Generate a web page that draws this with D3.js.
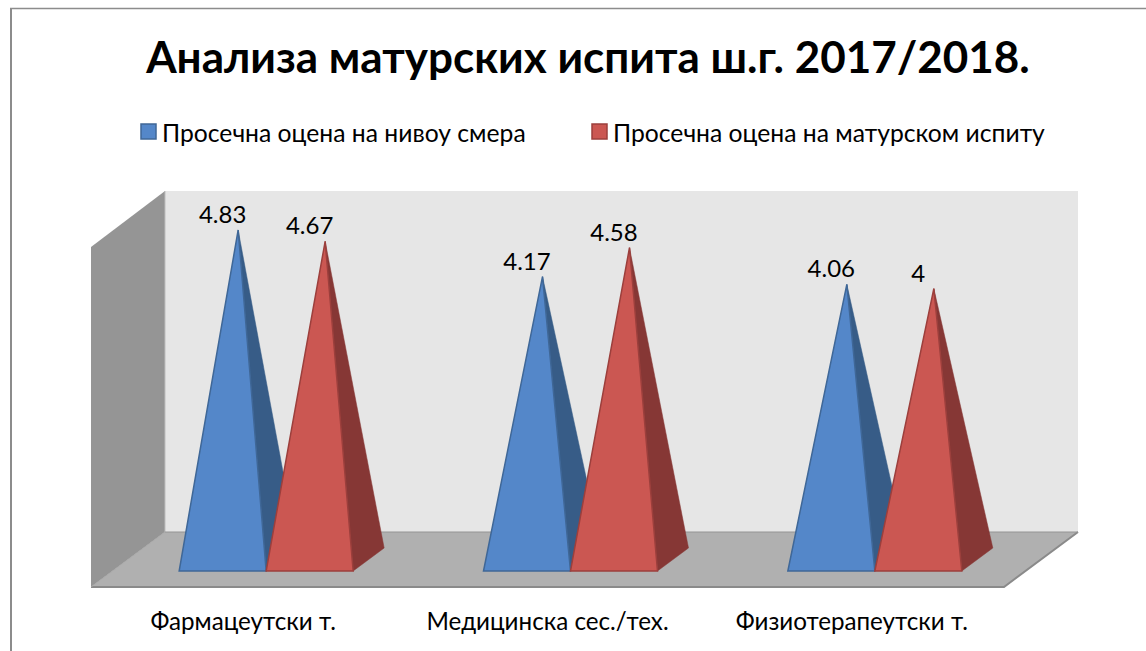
<!DOCTYPE html>
<html><head><meta charset="utf-8"><script src="https://cdn.jsdelivr.net/npm/d3@7"></script>
<style>html,body{margin:0;padding:0;background:#fff;overflow:hidden}svg{display:block}text{font-family:"Lato","Open Sans",sans-serif;fill:#000}</style></head><body>
<script>
const titleText = "Анализа матурских испита ш.г. 2017/2018.";
const categories = ["Фармацеутски т.", "Медицинска сес./тех.", "Физиотерапеутски т."];
const seriesNames = ["Просечна оцена на нивоу смера", "Просечна оцена на матурском испиту"];
const smera = [4.83, 4.17, 4.06];
const matura = [4.67, 4.58, 4];
const seriesValues = [smera, matura];
const valueLabels = [["4.83","4.17","4.06"],["4.67","4.58","4"]];
const fronts = ["#5487c9", "#cb5752"];
const sides = ["#375c87", "#863735"];
const edges = ["#3f6797", "#9c3f3c"];

const W = 1146, H = 651;
const svg = d3.select("body").append("svg").attr("width", W).attr("height", H);
svg.append("line").attr("x1",10).attr("x2",W).attr("y1",8.5).attr("y2",8.5).attr("stroke","#8c8c8c").attr("stroke-width",1.5);
svg.append("line").attr("x1",11).attr("x2",11).attr("y1",8).attr("y2",H).attr("stroke","#8c8c8c").attr("stroke-width",2);

const floorFront = 587, floorBack = 532, wallTop = 191, dx = 74;
const left = 91, right = 1004;
const poly = (pts, fill, stroke, sw) => svg.append("polygon").attr("points", pts.map(p=>p.join(",")).join(" ")).attr("fill", fill).attr("stroke", stroke||"none").attr("stroke-width", sw||0);

poly([[left+dx,wallTop],[right+dx,wallTop],[right+dx,floorBack],[left+dx,floorBack]], "#e6e6e6");
poly([[left,247],[left+dx,wallTop],[left+dx,floorBack],[left,floorFront]], "#959595");
svg.append("line").attr("x1",left+dx).attr("x2",left+dx).attr("y1",wallTop).attr("y2",floorBack).attr("stroke","#bdbdbd");
poly([[left,floorFront],[right,floorFront],[right+dx,floorBack],[left+dx,floorBack]], "#b0b0b0");
svg.append("polyline").attr("points",[[left,floorFront],[right,floorFront],[right+dx,floorBack]].map(p=>p.join(",")).join(" ")).attr("fill","none").attr("stroke","#8a8a8a").attr("stroke-width",2);
svg.append("line").attr("x1",left+dx).attr("x2",right+dx).attr("y1",floorBack).attr("y2",floorBack).attr("stroke","#949494");
svg.append("line").attr("x1",left).attr("x2",left+dx).attr("y1",floorFront).attr("y2",floorBack).attr("stroke","#a8a8a8");

const x0 = d3.scaleBand().domain(categories).range([left, right]);
const barW = 87, barShift = 23.5;
const x1 = d3.scaleOrdinal().domain([0,1]).range([x0.bandwidth()/2 - barW + barShift, x0.bandwidth()/2 + barShift]);
const y = d3.scaleLinear().domain([0,5]).range([571, 218]);
const depthX = 31, depthY = 23;

categories.forEach((c,i)=>{
  seriesValues.forEach((vals,s)=>{
    const xl = x0(c) + x1(s) - 0.5, xr = xl + barW, yb = y(0);
    const apex = [xl + barW/2 + depthX/2, y(vals[i])];
    poly([[xr,yb],[xr+depthX,yb-depthY],apex], sides[s], sides[s], 0.5);
    poly([[xl,yb],[xr,yb],apex], fronts[s], edges[s], 1.5);
  });
});
categories.forEach((c,i)=>{
  seriesValues.forEach((vals,s)=>{
    const xl = x0(c) + x1(s) - 0.5;
    svg.append("text").attr("x", xl + barW/2).attr("y", y(vals[i]) - 7)
      .attr("text-anchor","middle").attr("font-size",24).text(valueLabels[s][i]);
  });
  svg.append("text").attr("x", x0(c)+x0.bandwidth()/2).attr("y", 630).attr("text-anchor","middle").attr("font-size",24.2).text(c);
});

svg.append("text").attr("x",588).attr("y",73).attr("text-anchor","middle").attr("font-size",44).attr("font-weight",700).text(titleText);
const legendX = [141, 592], textX = [162, 613];
seriesNames.forEach((n,s)=>{
  svg.append("rect").attr("x",legendX[s]).attr("y",124).attr("width",15).attr("height",15).attr("fill",fronts[s]).attr("stroke",edges[s]).attr("stroke-width",1.5);
  svg.append("text").attr("x",textX[s]).attr("y",142).attr("font-size",24.7).text(n);
});
</script></body></html>
